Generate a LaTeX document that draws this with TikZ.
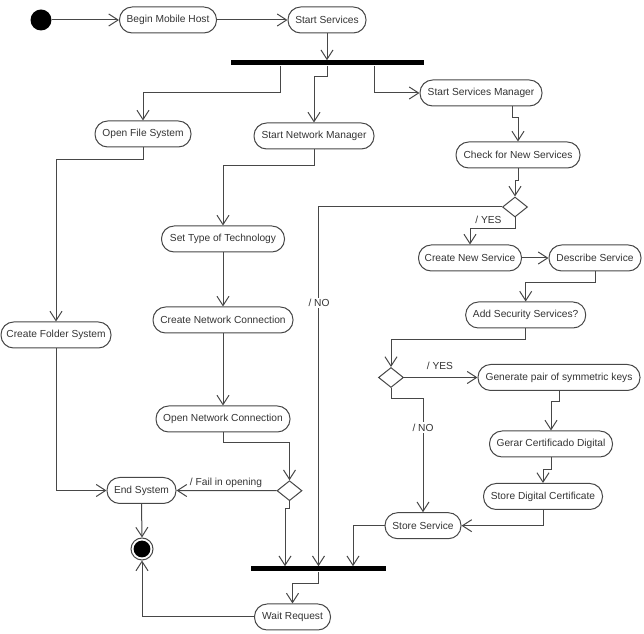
\documentclass[tikz,border=0pt]{standalone}
\usepackage{fontspec}
\setmainfont{Liberation Sans}
\usetikzlibrary{arrows.meta,shapes.geometric}
\definecolor{linec}{HTML}{474747}
\definecolor{txtc}{HTML}{333333}
\begin{document}
\begin{tikzpicture}[x=0.75pt,y=-0.75pt,
  act/.style={draw=linec, line width=0.75pt, rounded corners=9.5pt,
    minimum height=19.5pt, minimum width=#1*0.75pt, inner sep=0pt,
    font=\fontsize{7.65pt}{9pt}\selectfont, text=txtc},
  dec/.style={diamond, draw=linec, line width=0.75pt, minimum width=25*0.75pt,
    minimum height=20*0.75pt, inner sep=0pt, aspect=1.25},
  bar/.style={rectangle, fill=black, minimum height=5*0.75pt, inner sep=0pt},
  arr/.style={draw=linec, line width=0.75pt, -{Straight Barb[length=7pt,width=9pt]}},
  lbl/.style={font=\fontsize{7.65pt}{9pt}\selectfont, text=txtc, inner sep=1pt},
  initn/.style={circle, fill=black, minimum size=21*0.75pt, inner sep=0pt},
  finaln/.style={circle, draw=linec, line width=0.75pt, minimum size=22*0.75pt, inner sep=0pt,
    path picture={\fill[black] (path picture bounding box.center) circle (6.3pt);}}
]
\useasboundingbox (0,0) rectangle (644,634);

% nodes
\node[initn] (init) at (41,20) {};
\node[act=97] (bmh) at (168,20) {Begin Mobile Host};
\node[act=78] (ss) at (327,20) {Start Services};
\node[bar, minimum width=193*0.75pt] (fork) at (327.5,63) {};
\node[act=96] (ofs) at (143,134) {Open File System};
\node[act=120] (snm) at (314,136) {Start Network Manager};
\node[act=122] (ssm) at (481,93) {Start Services Manager};
\node[act=124] (cns) at (518,155) {Check for New Services};
\node[dec] (d1) at (515,207) {};
\node[act=110] (cfs) at (56,335) {Create Folder System};
\node[act=123] (stt) at (223,239) {Set Type of Technology};
\node[act=140] (cnc) at (223,320) {Create Network Connection};
\node[act=134] (onc) at (223,419) {Open Network Connection};
\node[dec] (d3) at (289.5,490.7) {};
\node[act=69] (es) at (141.5,490.5) {End System};
\node[finaln] (fin) at (142,549) {};
\node[act=103] (cnsv) at (470,258) {Create New Service};
\node[act=92] (ds) at (595,258) {Describe Service};
\node[act=120] (ass) at (525.7,315) {Add Security Services?};
\node[dec] (d2) at (391,377.5) {};
\node[act=162] (gp) at (559,377.5) {Generate pair of symmetric keys};
\node[act=123] (gcd) at (551,444) {Gerar Certificado Digital};
\node[act=119] (sdc) at (543,496.5) {Store Digital Certificate};
\node[act=76] (ssv) at (423,525.7) {Store Service};
\node[bar, minimum width=135*0.75pt] (join) at (318.5,569) {};
\node[act=76] (wr) at (292.5,617) {Wait Request};

% helper coordinates
\coordinate (f1) at (280,93);
\coordinate (f2) at (327.5,77);
\coordinate (f3) at (374.5,93);
\coordinate (c7) at (512,118);
\coordinate (j1) at (285,569);
\coordinate (j3) at (353,569);

% connectors
\draw[arr] (init) -- (bmh.west);
\draw[arr] (bmh.east) -- (ss.west);
\draw[arr] (ss.south) -- (ss.south |- fork.north);
\draw[arr] (f1 |- fork.south) -- (f1) -| (ofs.north);
\draw[arr] (f2 |- fork.south) -- (f2) -| (snm.north);
\draw[arr] (f3 |- fork.south) -- (f3) -- (ssm.west);
\draw[arr] (c7 |- ssm.south) -- (c7) -| (cns.north);
\draw[arr] (cns.south) -- ++(0,12) -| (d1.north);
\draw[arr] (d1.west) -| (join.north);
\draw[arr] (d1.south) -- ++(0,11) -| (cnsv.north);
\draw[arr] (cnsv.east) -- (ds.west);
\draw[arr] (ds.south) -- ++(0,10.7) -| (ass.north);
\draw[arr] (ass.south) -- ++(0,11) -| (d2.north);
\draw[arr] (d2.east) -- (gp.west);
\draw[arr] (d2.south) -- ++(0,11) -| (ssv.north);
\draw[arr] (gp.south) -- ++(0,11) -| (gcd.north);
\draw[arr] (gcd.south) -- ++(0,12) -| (sdc.north);
\draw[arr] (sdc.south) |- (ssv.east);
\draw[arr] (ssv.west) -| (j3 |- join.north);
\draw[arr] (ofs.south) -- ++(0,12) -| (cfs.north);
\draw[arr] (cfs.south) |- (es.west);
\draw[arr] (snm.south) -- ++(0,16) -| (stt.north);
\draw[arr] (stt.south) -- (cnc.north);
\draw[arr] (cnc.south) -- (onc.north);
\draw[arr] (onc.south) -- ++(0,10.3) -| (d3.north);
\draw[arr] (d3.west) -- (es.east);
\draw[arr] (d3.south) -- ++(0,7.3) -| (j1 |- join.north);
\draw[arr] (es.south) -- (fin.north);
\draw[arr] (join.south) -- ++(0,11.5) -| (wr.north);
\draw[arr] (wr.west) -| (fin.south);

% labels
\node[lbl, fill=white] (lno1) at (319,303) {/ NO};
\node[lbl] (lyes1) at (488.5,220) {/ YES};
\node[lbl] (lyes2) at (440,365.7) {/ YES};
\node[lbl, fill=white] (lno2) at (423,427.5) {/ NO};
\node[lbl] (lfail) at (226,483) {/ Fail in opening};
\end{tikzpicture}
\end{document}
